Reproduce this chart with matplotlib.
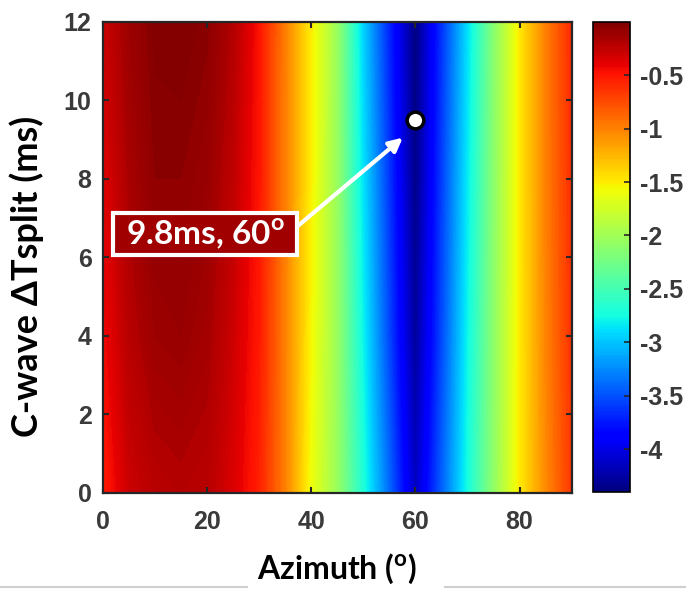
import matplotlib.pyplot as plt
from matplotlib.lines import Line2D
from matplotlib.patches import Rectangle
import numpy as np

# data
azimuth = [0, 5, 10, 15, 20, 25, 30, 35, 40, 45, 50, 55, 60, 65, 70, 75, 80, 85, 90]
dt_split = [0, 4, 8, 12]
energy_dt0 = [-0.55, -0.30, -0.22, -0.20, -0.22, -0.35, -0.55, -1.00, -1.60, -2.05,
              -2.70, -3.40, -4.15, -3.45, -2.75, -2.10, -1.50, -1.05, -0.66]
energy_dt4 = [-0.45, -0.22, -0.12, -0.10, -0.15, -0.30, -0.52, -1.00, -1.55, -2.05,
              -2.80, -3.55, -4.30, -3.55, -2.80, -2.12, -1.50, -1.02, -0.63]
energy_dt8 = [-0.38, -0.17, -0.06, -0.06, -0.10, -0.25, -0.50, -1.00, -1.52, -2.05,
              -2.88, -3.62, -4.37, -3.60, -2.85, -2.13, -1.50, -1.00, -0.62]
energy_dt12 = [-0.30, -0.12, -0.03, -0.02, -0.05, -0.20, -0.48, -1.00, -1.50, -2.05,
               -2.95, -3.70, -4.40, -3.65, -2.90, -2.15, -1.50, -1.00, -0.60]
best_az = 60
best_dt = 9.5
best_label = "9.8ms, 60$^{\\mathbf{o}}$"
cbar_ticks = [-4, -3.5, -3, -2.5, -2, -1.5, -1, -0.5]

plt.rcParams['mathtext.fontset'] = 'custom'
plt.rcParams['mathtext.rm'] = 'Lato'
plt.rcParams['mathtext.bf'] = 'Lato:bold'

energy = np.array([energy_dt0, energy_dt4, energy_dt8, energy_dt12])

fig = plt.figure(figsize=(6.86, 5.89), dpi=100)
ax = fig.add_axes([0.1497, 0.163, 0.6836, 0.8])
cax = fig.add_axes([0.8645, 0.165, 0.0545, 0.798])

levels = np.linspace(-4.4, 0, 221)
cs = ax.contourf(azimuth, dt_split, energy, levels=levels, cmap='jet',
                 vmin=-4.4, vmax=0, antialiased=False)
ax.set_xlim(0, 90)
ax.set_ylim(0, 12)
ax.set_xticks([0, 20, 40, 60, 80])
ax.set_yticks([0, 2, 4, 6, 8, 10, 12])

tick_font = dict(family='Liberation Sans', weight='bold', size=18)
for lab in ax.get_xticklabels() + ax.get_yticklabels():
    lab.set(**tick_font)
ax.tick_params(direction='in', top=True, right=True, length=4, width=1.5,
               colors='#262626', labelcolor='#3a3a3a')
ax.tick_params(axis='x', pad=12)
ax.tick_params(axis='y', pad=8)
for s in ax.spines.values():
    s.set_linewidth(1.6)
    s.set_color('#262626')

# best fit marker, arrow and label box
ax.plot(best_az, best_dt, 'o', ms=12, mfc='white', mec='black', mew=2.5, zorder=5)
ax.annotate('', xy=(best_az - 2.4, best_dt - 0.45), xytext=(37.0, 6.75),
            arrowprops=dict(arrowstyle='-|>', color='white', lw=3,
                            mutation_scale=20, shrinkA=0, shrinkB=0), zorder=4)
ax.add_patch(Rectangle((2.0, 6.06), 35.3, 1.07, fc='#a00000', ec='white', lw=3,
                       zorder=4))
ax.text(19.65, 6.6, best_label, ha='center', va='center', color='white',
        fontsize=24, family='Lato', weight='bold', zorder=6)

ax.set_xlabel("Azimuth ($^{\\mathbf{o}}$)", family='Lato', weight='bold', fontsize=23)
ax.set_ylabel("C-wave ΔTsplit (ms)", family='Lato', weight='bold', fontsize=26)
ax.xaxis.set_label_coords(0.5, -0.125)
ax.yaxis.set_label_coords(-0.125, 0.46)

# colorbar
cb = fig.colorbar(cs, cax=cax, ticks=cbar_ticks)
cb.ax.set_yticklabels(['%g' % t for t in cbar_ticks])
for lab in cb.ax.get_yticklabels():
    lab.set(**tick_font)
cb.ax.tick_params(direction='in', length=4, width=1.2, colors='#262626',
                  labelcolor='#3a3a3a', pad=7)
cb.outline.set_linewidth(1.2)

# thin grey rule at the bottom of the slide
fig.add_artist(Line2D([0, 0.36], [0.003, 0.003], color='#cfcfcf', lw=1.5))
fig.add_artist(Line2D([0.649, 1], [0.003, 0.003], color='#cfcfcf', lw=1.5))

plt.savefig('out.png', dpi=100)
